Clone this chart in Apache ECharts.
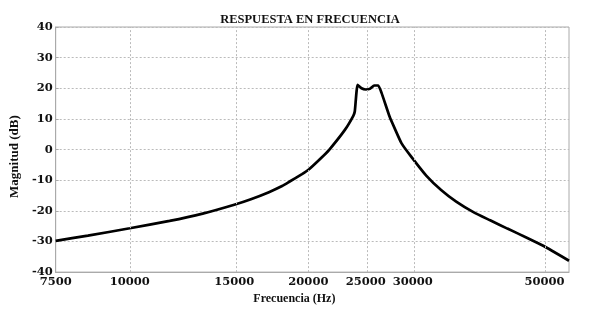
<!DOCTYPE html>
<html>
<head>
<meta charset="utf-8">
<script src="https://cdn.jsdelivr.net/npm/echarts/dist/echarts.min.js"></script>
<style>
  html, body { margin: 0; padding: 0; background: #fff; }
  #chart { width: 589px; height: 310px; }
</style>
</head>
<body>
<div id="chart"></div>
<script>
  // valores
  var freqHz = [7500, 8500, 10000, 11670, 13270, 15000, 16000, 17160, 18060, 18540,
    19510, 20030, 21080, 21700, 23060, 23810, 23950, 24210, 24580, 24970,
    25390, 25820, 26230, 26570, 27430, 27960, 28700, 29830, 31600,
    33480, 35500, 38080, 40500, 43300, 46500, 49860, 55000];
  var magDb = [-29.8, -28.1, -25.7, -23.3, -20.9, -18.0, -16.2, -13.9, -11.9, -10.6,
    -8.0, -6.5, -2.5, 0.0, 6.5, 11.0, 12.5, 21.1, 20.0, 19.6,
    19.8, 20.9, 20.9, 18.5, 10.6, 6.9, 2.1, -2.4, -8.5,
    -13.2, -17.0, -20.6, -23.1, -25.8, -28.6, -31.5, -36.3];
  var freqTicks = [7500, 10000, 15000, 20000, 25000, 30000, 50000];
  var freqMin = 7500, freqMax = 55000;

  var lg = function(v) { return Math.log10(v); };
  var lineData = freqHz.map(function(f, i) { return [lg(f), magDb[i]]; });
  var serif = '"DejaVu Serif", serif';
  var times = '"Liberation Serif", serif';

  var option = {
    animation: false,
    title: {
      text: 'RESPUESTA EN FRECUENCIA',
      left: 305,
      top: 8,
      textAlign: 'center',
      textStyle: { fontFamily: times, fontWeight: 'bold', fontSize: 12.5, color: '#111' }
    },
    grid: {
      left: 53, right: 20, top: 27, bottom: 31,
      show: true, borderColor: '#aaa', borderWidth: 1
    },
    xAxis: {
      type: 'value',
      min: lg(freqMin),
      max: lg(freqMax),
      name: 'Frecuencia (Hz)',
      nameLocation: 'middle',
      nameGap: 19,
      nameTextStyle: { fontFamily: times, fontWeight: 'bold', fontSize: 12, color: '#111', padding: [0, 36, 0, 0] },
      axisLine: { show: true, onZero: false, lineStyle: { color: '#aaa' } },
      axisTick: { show: false },
      splitLine: { show: false },
      axisLabel: {
        customValues: freqTicks.map(lg),
        margin: 4,
        fontFamily: serif, fontWeight: 'bold', fontSize: 11.5, color: '#111',
        formatter: function(v) { return Math.round(Math.pow(10, v)); }
      }
    },
    yAxis: {
      type: 'value',
      min: -40, max: 40, interval: 10,
      name: 'Magnitud (dB)',
      nameLocation: 'middle',
      nameGap: 34,
      nameTextStyle: { fontFamily: times, fontWeight: 'bold', fontSize: 13, color: '#111', padding: [0, 14, 0, 0] },
      axisLine: { show: true, lineStyle: { color: '#aaa' } },
      axisTick: { show: true, inside: true, length: 3, lineStyle: { color: '#aaa' } },
      axisLabel: { margin: 3, fontFamily: serif, fontWeight: 'bold', fontSize: 11.5, color: '#111' },
      splitLine: { lineStyle: { color: '#bbb', type: [2, 2], width: 1 } }
    },
    series: [{
      type: 'line',
      data: lineData,
      showSymbol: false,
      smooth: 0.15,
      lineStyle: { color: '#000', width: 2.7 },
      markLine: {
        silent: true,
        symbol: 'none',
        label: { show: false },
        lineStyle: { color: '#bbb', type: [2, 2], width: 1 },
        data: freqTicks.slice(1).map(function(t) { return { xAxis: lg(t) }; })
      },
      z: 3
    }]
  };

  var chartInstance = echarts.init(document.getElementById('chart'));
  chartInstance.setOption(option);
</script>
</body>
</html>
